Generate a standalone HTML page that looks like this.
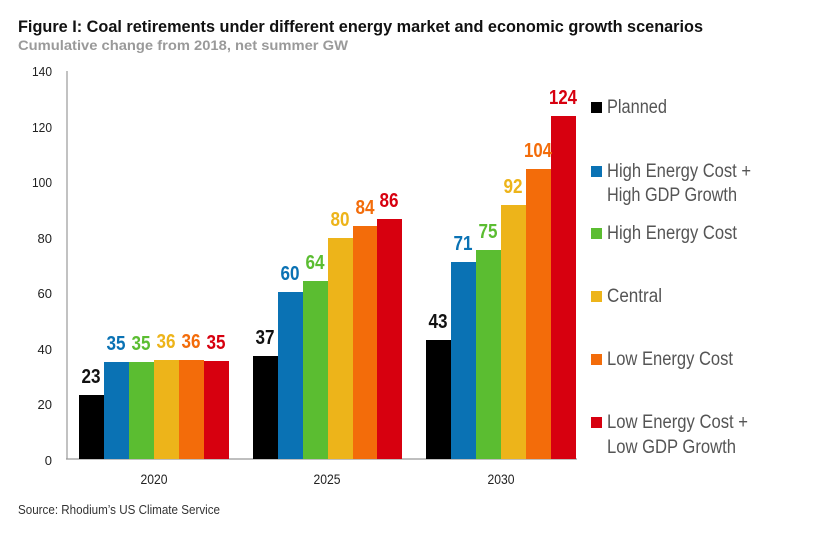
<!DOCTYPE html>
<html><head><meta charset="utf-8"><style>
html,body{margin:0;padding:0;background:#fff;}
svg{display:block;font-family:"Liberation Sans Narrow","Liberation Sans",sans-serif;}
</style></head><body>
<svg width="814" height="539" viewBox="0 0 814 539" xmlns="http://www.w3.org/2000/svg">
<text x="18" y="32" font-size="17" font-weight="bold" fill="#111" textLength="685" lengthAdjust="spacingAndGlyphs">Figure I: Coal retirements under different energy market and economic growth scenarios</text>
<text x="18" y="50" font-size="14" font-weight="bold" fill="#9a9a9a" textLength="330" lengthAdjust="spacingAndGlyphs">Cumulative change from 2018, net summer GW</text>
<g font-size="13" fill="#222" text-anchor="end">
<text x="52" y="76" textLength="20" lengthAdjust="spacingAndGlyphs">140</text><text x="52" y="132" textLength="20" lengthAdjust="spacingAndGlyphs">120</text><text x="52" y="187" textLength="20" lengthAdjust="spacingAndGlyphs">100</text>
<text x="52" y="243">80</text><text x="52" y="298">60</text><text x="52" y="354">40</text>
<text x="52" y="409">20</text><text x="52" y="465">0</text>
</g>
<line x1="67" y1="71" x2="67" y2="459" stroke="#999" stroke-width="1.2"/>
<line x1="66" y1="459" x2="577" y2="459" stroke="#999" stroke-width="1.2"/>
<g>
<rect x="79" y="395" width="25" height="64" fill="#000"/>
<rect x="104" y="362" width="25" height="97" fill="#0a72b4"/>
<rect x="129" y="362" width="25" height="97" fill="#5bbd31"/>
<rect x="154" y="360" width="25" height="99" fill="#edb41a"/>
<rect x="179" y="360" width="25" height="99" fill="#f36c0a"/>
<rect x="204" y="361" width="25" height="98" fill="#d7000f"/>
<rect x="253" y="356" width="25" height="103" fill="#000"/>
<rect x="278" y="292" width="25" height="167" fill="#0a72b4"/>
<rect x="303" y="281" width="25" height="178" fill="#5bbd31"/>
<rect x="328" y="238" width="25" height="221" fill="#edb41a"/>
<rect x="353" y="226" width="24" height="233" fill="#f36c0a"/>
<rect x="377" y="219" width="25" height="240" fill="#d7000f"/>
<rect x="426" y="340" width="25" height="119" fill="#000"/>
<rect x="451" y="262" width="25" height="197" fill="#0a72b4"/>
<rect x="476" y="250" width="25" height="209" fill="#5bbd31"/>
<rect x="501" y="205" width="25" height="254" fill="#edb41a"/>
<rect x="526" y="169" width="25" height="290" fill="#f36c0a"/>
<rect x="551" y="116" width="25" height="343" fill="#d7000f"/>
</g>
<g font-size="20" text-anchor="middle" font-weight="bold">
<text x="91" y="383" fill="#111" textLength="19" lengthAdjust="spacingAndGlyphs">23</text>
<text x="116" y="350" fill="#0a72b4" textLength="19" lengthAdjust="spacingAndGlyphs">35</text>
<text x="141" y="350" fill="#5bbd31" textLength="19" lengthAdjust="spacingAndGlyphs">35</text>
<text x="166" y="348" fill="#edb41a" textLength="19" lengthAdjust="spacingAndGlyphs">36</text>
<text x="191" y="348" fill="#f36c0a" textLength="19" lengthAdjust="spacingAndGlyphs">36</text>
<text x="216" y="349" fill="#d7000f" textLength="19" lengthAdjust="spacingAndGlyphs">35</text>
<text x="265" y="344" fill="#111" textLength="19" lengthAdjust="spacingAndGlyphs">37</text>
<text x="290" y="280" fill="#0a72b4" textLength="19" lengthAdjust="spacingAndGlyphs">60</text>
<text x="315" y="269" fill="#5bbd31" textLength="19" lengthAdjust="spacingAndGlyphs">64</text>
<text x="340" y="226" fill="#edb41a" textLength="19" lengthAdjust="spacingAndGlyphs">80</text>
<text x="365" y="214" fill="#f36c0a" textLength="19" lengthAdjust="spacingAndGlyphs">84</text>
<text x="389" y="207" fill="#d7000f" textLength="19" lengthAdjust="spacingAndGlyphs">86</text>
<text x="438" y="328" fill="#111" textLength="19" lengthAdjust="spacingAndGlyphs">43</text>
<text x="463" y="250" fill="#0a72b4" textLength="19" lengthAdjust="spacingAndGlyphs">71</text>
<text x="488" y="238" fill="#5bbd31" textLength="19" lengthAdjust="spacingAndGlyphs">75</text>
<text x="513" y="193" fill="#edb41a" textLength="19" lengthAdjust="spacingAndGlyphs">92</text>
<text x="538" y="157" fill="#f36c0a" textLength="28" lengthAdjust="spacingAndGlyphs">104</text>
<text x="563" y="104" fill="#d7000f" textLength="28" lengthAdjust="spacingAndGlyphs">124</text>
</g>
<g font-size="14" fill="#222" text-anchor="middle">
<text x="154" y="484" textLength="27" lengthAdjust="spacingAndGlyphs">2020</text><text x="327" y="484" textLength="27" lengthAdjust="spacingAndGlyphs">2025</text><text x="501" y="484" textLength="27" lengthAdjust="spacingAndGlyphs">2030</text>
</g>
<text x="18" y="514" font-size="13" fill="#333" textLength="202" lengthAdjust="spacingAndGlyphs">Source: Rhodium’s US Climate Service</text>
<g font-size="19" fill="#555">
<rect x="591" y="102" width="11" height="11" fill="#000"/>
<text x="607" y="113" textLength="60" lengthAdjust="spacingAndGlyphs">Planned</text>
<rect x="591" y="166" width="11" height="11" fill="#0a72b4"/>
<text x="607" y="177" textLength="144" lengthAdjust="spacingAndGlyphs">High Energy Cost +</text>
<text x="607" y="201" textLength="130" lengthAdjust="spacingAndGlyphs">High GDP Growth</text>
<rect x="591" y="228" width="11" height="11" fill="#5bbd31"/>
<text x="607" y="239" textLength="130" lengthAdjust="spacingAndGlyphs">High Energy Cost</text>
<rect x="591" y="291" width="11" height="11" fill="#edb41a"/>
<text x="607" y="302" textLength="55" lengthAdjust="spacingAndGlyphs">Central</text>
<rect x="591" y="354" width="11" height="11" fill="#f36c0a"/>
<text x="607" y="365" textLength="126" lengthAdjust="spacingAndGlyphs">Low Energy Cost</text>
<rect x="591" y="417" width="11" height="11" fill="#d7000f"/>
<text x="607" y="428" textLength="141" lengthAdjust="spacingAndGlyphs">Low Energy Cost +</text>
<text x="607" y="453" textLength="129" lengthAdjust="spacingAndGlyphs">Low GDP Growth</text>
</g>
</svg>
</body></html>
